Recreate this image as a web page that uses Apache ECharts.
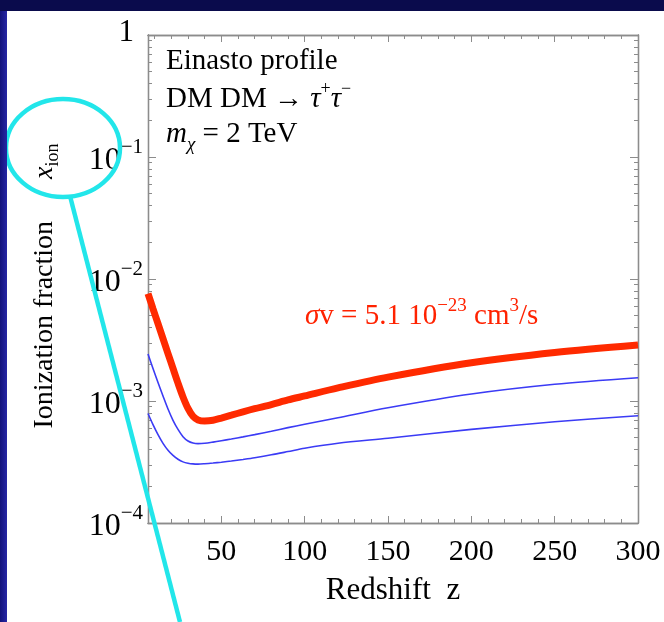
<!DOCTYPE html>
<html>
<head>
<meta charset="utf-8">
<script src="https://cdn.jsdelivr.net/npm/echarts@6/dist/echarts.min.js"></script>
<style>html,body{margin:0;padding:0;background:#fff}#c{width:664px;height:622px}</style>
</head>
<body>
<div id="c"></div>
<script>
// ---- data ----
const zValues   = [6, 9, 12, 15, 18, 21, 24, 27, 30, 33, 36, 40, 45, 50, 56, 63, 70, 80, 90, 100, 120, 150, 200, 250, 300];
const redValues = [7.6e-3, 5.7e-3, 4.3e-3, 3.25e-3, 2.45e-3, 1.85e-3, 1.4e-3, 1.08e-3, 8.7e-4, 7.5e-4, 7.0e-4, 6.85e-4, 6.95e-4, 7.25e-4, 7.65e-4, 8.15e-4, 8.65e-4, 9.35e-4, 1.02e-3, 1.1e-3, 1.28e-3, 1.57e-3, 2.06e-3, 2.5e-3, 2.88e-3];
const blueUpper = [2.43e-3, 1.85e-3, 1.42e-3, 1.1e-3, 8.6e-4, 6.95e-4, 5.85e-4, 5.1e-4, 4.7e-4, 4.52e-4, 4.47e-4, 4.5e-4, 4.6e-4, 4.72e-4, 4.88e-4, 5.08e-4, 5.3e-4, 5.65e-4, 6.05e-4, 6.45e-4, 7.3e-4, 8.8e-4, 1.14e-3, 1.37e-3, 1.55e-3];
const blueLower = [7.9e-4, 6.4e-4, 5.3e-4, 4.5e-4, 3.95e-4, 3.58e-4, 3.33e-4, 3.17e-4, 3.09e-4, 3.05e-4, 3.04e-4, 3.06e-4, 3.1e-4, 3.15e-4, 3.22e-4, 3.32e-4, 3.43e-4, 3.62e-4, 3.85e-4, 4.1e-4, 4.5e-4, 4.95e-4, 5.85e-4, 6.75e-4, 7.58e-4];
const xMajorTicks = [50, 100, 150, 200, 250, 300];
const xMinorTicks = [10, 20, 30, 40, 60, 70, 80, 90, 110, 120, 130, 140, 160, 170, 180, 190, 210, 220, 230, 240, 260, 270, 280, 290];
const yMajorTicks = [1e-4, 1e-3, 1e-2, 1e-1, 1];
const yMinorTicks = [2e-4,3e-4,4e-4,5e-4,6e-4,7e-4,8e-4,9e-4, 2e-3,3e-3,4e-3,5e-3,6e-3,7e-3,8e-3,9e-3, 2e-2,3e-2,4e-2,5e-2,6e-2,7e-2,8e-2,9e-2, 0.2,0.3,0.4,0.5,0.6,0.7,0.8,0.9];
const xRange = [6, 300];
const yRange = [1e-4, 1];

const FONT = '"Liberation Serif", "DejaVu Serif", serif';
const AX = '#8c8c8c';
const chart = echarts.init(document.getElementById('c'));
const pairs = vals => zValues.map((z, i) => [z, vals[i]]);

function xAxis(pos, ticks, len, labels) {
  return {
    type: 'value', position: pos, min: xRange[0], max: xRange[1],
    axisLine: {show: true, lineStyle: {color: AX, width: 1.3}},
    axisTick: {show: true, inside: true, length: len, customValues: ticks, lineStyle: {color: AX, width: 1}},
    axisLabel: labels ? {show: true, customValues: xMajorTicks, margin: 14, color: '#000', fontFamily: FONT, fontSize: 30} : {show: false},
    splitLine: {show: false},
    name: labels ? 'Redshift  z' : '', nameLocation: 'middle', nameGap: 52,
    nameTextStyle: {color: '#000', fontFamily: FONT, fontSize: 31}
  };
}
function yAxis(pos, ticks, len, labels) {
  return {
    type: 'log', logBase: 10, position: pos, min: yRange[0], max: yRange[1],
    axisLine: {show: true, lineStyle: {color: AX, width: 1.3}},
    axisTick: {show: true, inside: true, length: len, customValues: ticks, lineStyle: {color: AX, width: 1}},
    axisLabel: labels ? {
      show: true, customValues: yMajorTicks, margin: 5,
      formatter: v => { const e = Math.round(Math.log10(v)); return e === 0 ? '{o|1}' : '{b|10}{s|−' + (-e) + '}'; },
      rich: {
        o: {fontFamily: FONT, fontSize: 31, color: '#000', padding: [0, 9, 4, 0]},
        b: {fontFamily: FONT, fontSize: 32, color: '#000', verticalAlign: 'bottom', lineHeight: 40},
        s: {fontFamily: FONT, fontSize: 21, color: '#000', verticalAlign: 'top', lineHeight: 40}
      }
    } : {show: false},
    splitLine: {show: false},
    name: labels ? '{n|Ionization fraction      }{x|x}{sub|ion}{n|  }' : '', nameLocation: 'middle', nameRotate: 90, nameGap: 86,
    nameTextStyle: {
      rich: {
        n: {fontFamily: FONT, fontSize: 28, color: '#000', lineHeight: 34},
        x: {fontFamily: FONT, fontSize: 28, fontStyle: 'italic', color: '#000', lineHeight: 34},
        sub: {fontFamily: FONT, fontSize: 18, color: '#000', verticalAlign: 'bottom', lineHeight: 34}
      }
    }
  };
}

const serif = (o) => Object.assign({fontFamily: FONT, fill: '#000'}, o);

chart.setOption({
  backgroundColor: '#ffffff',
  animation: false,
  grid: {left: 148, right: 26, top: 35, bottom: 99, containLabel: false},
  xAxis: [
    xAxis('bottom', xMajorTicks, 7, true),
    xAxis('bottom', xMinorTicks, 4, false),
    xAxis('top', xMajorTicks, 7, false),
    xAxis('top', xMinorTicks, 4, false)
  ],
  yAxis: [
    yAxis('left', yMajorTicks, 8, true),
    yAxis('left', yMinorTicks, 4, false),
    yAxis('right', yMajorTicks, 8, false),
    yAxis('right', yMinorTicks, 4, false)
  ],
  series: [
    {type: 'line', data: pairs(blueLower), smooth: 0.3, showSymbol: false, lineStyle: {color: '#3b3bf5', width: 1.6}, z: 3},
    {type: 'line', data: pairs(blueUpper), smooth: 0.3, showSymbol: false, lineStyle: {color: '#3b3bf5', width: 1.6}, z: 3},
    {type: 'line', data: pairs(redValues), smooth: 0.3, showSymbol: false, lineStyle: {color: '#ff2a00', width: 7}, z: 4}
  ],
  graphic: [
    {type: 'rect', shape: {x: 0, y: 0, width: 664, height: 11}, style: {fill: '#0a0b4c'}, z: 100, silent: true},
    {type: 'rect', shape: {x: 0, y: 11, width: 7, height: 611}, style: {fill: new echarts.graphic.LinearGradient(0, 0, 1, 0, [{offset: 0, color: '#12127a'}, {offset: 1, color: '#2626a6'}])}, z: 100, silent: true},
    {type: 'text', left: 166, top: 47, style: serif({text: 'Einasto profile', fontSize: 29}), z: 50},
    {type: 'text', left: 166, top: 80, style: {
      text: '{t|DM DM → }{i|τ}{p|+}{i|τ}{p|−}',
      rich: {
        t: {fontFamily: FONT, fontSize: 29, fill: '#000', lineHeight: 34, verticalAlign: 'bottom'},
        i: {fontFamily: FONT, fontSize: 29, fontStyle: 'italic', fill: '#000', lineHeight: 34, verticalAlign: 'bottom'},
        p: {fontFamily: FONT, fontSize: 18, fill: '#000', lineHeight: 34, verticalAlign: 'top'}
      }}, z: 50},
    {type: 'text', left: 166, top: 120, style: {
      text: '{i|m}{b|χ}{t| = 2 TeV}',
      rich: {
        t: {fontFamily: FONT, fontSize: 29, fill: '#000', lineHeight: 34, verticalAlign: 'top'},
        i: {fontFamily: FONT, fontSize: 29, fontStyle: 'italic', fill: '#000', lineHeight: 34, verticalAlign: 'top'},
        b: {fontFamily: FONT, fontSize: 19, fontStyle: 'italic', fill: '#000', lineHeight: 34, verticalAlign: 'bottom'}
      }}, z: 50},
    {type: 'text', left: 305, top: 297, style: {
      text: '{i|σ}{t|v = 5.1 10}{p|−23}{t| cm}{p|3}{t|/s}',
      rich: {
        t: {fontFamily: FONT, fontSize: 29, fill: '#ff2200', lineHeight: 34, verticalAlign: 'bottom'},
        i: {fontFamily: FONT, fontSize: 29, fontStyle: 'italic', fill: '#ff2200', lineHeight: 34, verticalAlign: 'bottom'},
        p: {fontFamily: FONT, fontSize: 19, fill: '#ff2200', lineHeight: 34, verticalAlign: 'top'}
      }}, z: 50},
    {type: 'ellipse', shape: {cx: 63, cy: 148, rx: 57, ry: 49}, style: {fill: 'none', stroke: '#22e6ea', lineWidth: 4.5}, z: 90, silent: true},
    {type: 'line', shape: {x1: 70, y1: 196, x2: 180, y2: 622}, style: {stroke: '#22e6ea', lineWidth: 4.5}, z: 90, silent: true}
  ]
});
</script>
</body>
</html>
